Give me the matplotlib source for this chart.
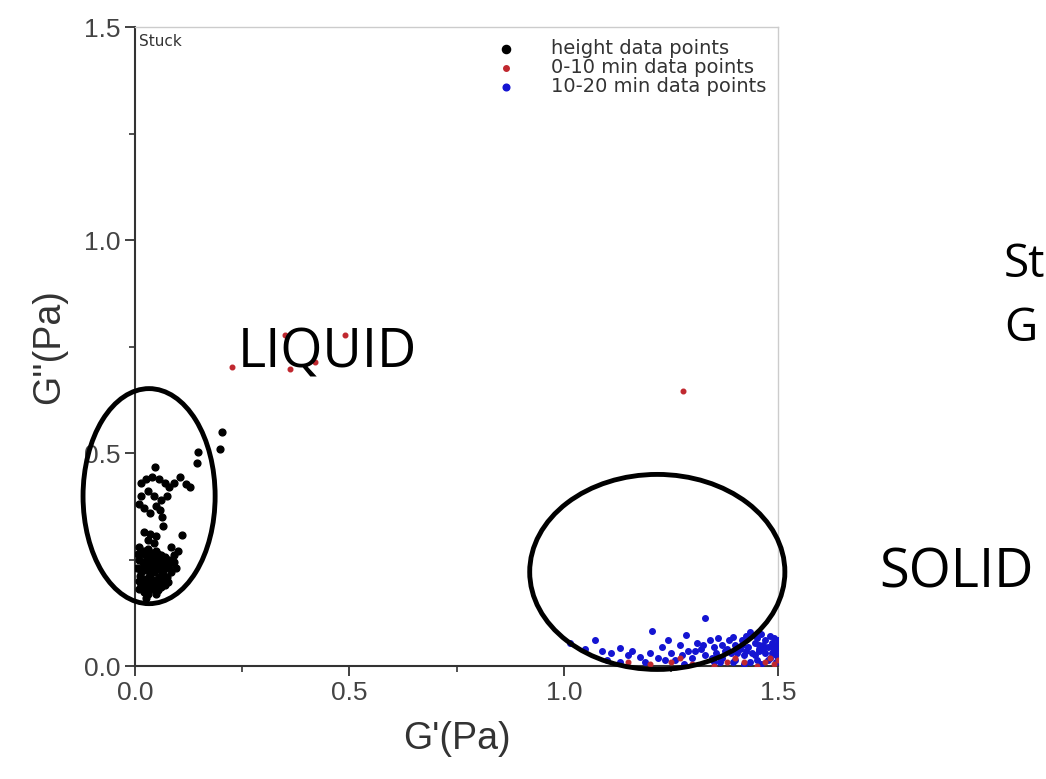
import matplotlib.pyplot as plt
from matplotlib.patches import Ellipse

# height data points (G', G'')
height_x = [0.203, 0.198, 0.147, 0.145, 0.047, 0.105, 0.128, 0.118, 0.110,
            0.015, 0.025, 0.040, 0.055, 0.070, 0.080, 0.075, 0.060, 0.045, 0.030,
            0.015, 0.010, 0.020, 0.035, 0.050, 0.058, 0.063, 0.065, 0.090,
            0.020, 0.035, 0.050, 0.030, 0.045,
            0.010, 0.020, 0.030, 0.040, 0.050, 0.060, 0.070, 0.080, 0.090, 0.095, 0.085,
            0.010, 0.020, 0.030, 0.040, 0.050, 0.060, 0.070, 0.075,
            0.005, 0.015, 0.025, 0.035, 0.045, 0.055, 0.065,
            0.010, 0.020, 0.030, 0.040, 0.050, 0.060, 0.070,
            0.010, 0.020, 0.030, 0.040, 0.050, 0.025, 0.015,
            0.035, 0.045, 0.055, 0.025, 0.065, 0.080, 0.090, 0.100, 0.085,
            0.012, 0.022, 0.032, 0.042, 0.052, 0.062, 0.072, 0.017, 0.027, 0.037,
            0.047, 0.057, 0.067, 0.008, 0.018, 0.028, 0.038, 0.048, 0.058, 0.068,
            0.013, 0.023, 0.033, 0.043, 0.053, 0.063, 0.033, 0.043, 0.053, 0.078]
height_y = [0.549, 0.509, 0.502, 0.477, 0.467, 0.444, 0.420, 0.428, 0.308,
            0.430, 0.440, 0.445, 0.440, 0.430, 0.420, 0.400, 0.390, 0.400, 0.410,
            0.400, 0.380, 0.370, 0.360, 0.375, 0.366, 0.350, 0.330, 0.430,
            0.315, 0.310, 0.305, 0.295, 0.290,
            0.280, 0.270, 0.275, 0.265, 0.270, 0.260, 0.255, 0.250, 0.245, 0.230, 0.220,
            0.250, 0.245, 0.240, 0.245, 0.235, 0.240, 0.230, 0.210,
            0.230, 0.220, 0.225, 0.215, 0.220, 0.210, 0.200,
            0.200, 0.205, 0.195, 0.200, 0.190, 0.185, 0.190,
            0.180, 0.175, 0.170, 0.180, 0.170, 0.160, 0.190,
            0.250, 0.255, 0.250, 0.260, 0.225, 0.235, 0.260, 0.270, 0.280,
            0.212, 0.232, 0.208, 0.228, 0.248, 0.218, 0.242, 0.262, 0.188, 0.222,
            0.202, 0.228, 0.212, 0.262, 0.238, 0.252, 0.238, 0.258, 0.198, 0.202,
            0.192, 0.182, 0.185, 0.192, 0.178, 0.248, 0.268, 0.235, 0.262, 0.198]

# 0-10 min data points
early_x = [0.226, 0.350, 0.362, 0.420, 0.490, 1.278,
           1.470, 1.480, 1.490, 1.500, 1.450, 1.420, 1.380, 1.300,
           1.250, 1.200, 1.150, 1.270, 1.350, 1.400]
early_y = [0.702, 0.777, 0.697, 0.714, 0.777, 0.646,
           0.010, 0.020, 0.005, 0.015, 0.000, 0.010, 0.010, 0.005,
           0.010, 0.005, 0.010, 0.020, 0.000, 0.020]

# 10-20 min data points
late_x = [1.015, 1.073, 1.050, 1.090, 1.110, 1.131, 1.150, 1.178, 1.160, 1.190,
          1.200, 1.206, 1.220, 1.230, 1.243, 1.250, 1.260, 1.270, 1.285, 1.290,
          1.300, 1.310, 1.320, 1.330, 1.330, 1.340, 1.350, 1.355, 1.360, 1.370,
          1.370, 1.380, 1.385, 1.390, 1.395, 1.400, 1.400, 1.410, 1.415, 1.420,
          1.425, 1.430, 1.434, 1.440, 1.445, 1.450, 1.450, 1.455, 1.460, 1.465,
          1.470, 1.470, 1.475, 1.480, 1.480, 1.485, 1.490, 1.490, 1.495, 1.500,
          1.500, 1.500, 1.495, 1.460, 1.420, 1.350, 1.280, 1.130, 1.100,
          1.405, 1.425, 1.445, 1.465, 1.485, 1.435, 1.455, 1.475, 1.495, 1.395,
          1.375, 1.415, 1.455, 1.485, 1.365, 1.345, 1.325, 1.305, 1.275, 1.235]
late_y = [0.054, 0.061, 0.040, 0.035, 0.030, 0.042, 0.025, 0.021, 0.035, 0.010,
          0.030, 0.082, 0.020, 0.045, 0.061, 0.030, 0.015, 0.050, 0.073, 0.035,
          0.020, 0.055, 0.040, 0.113, 0.025, 0.060, 0.045, 0.030, 0.065, 0.050,
          0.020, 0.040, 0.060, 0.030, 0.068, 0.050, 0.015, 0.040, 0.060, 0.025,
          0.070, 0.045, 0.080, 0.030, 0.055, 0.065, 0.015, 0.040, 0.075, 0.050,
          0.030, 0.060, 0.045, 0.070, 0.020, 0.055, 0.035, 0.065, 0.050, 0.040,
          0.060, 0.020, 0.010, 0.005, 0.005, 0.010, 0.005, 0.010, 0.015,
          0.030, 0.035, 0.025, 0.040, 0.030, 0.010, 0.050, 0.015, 0.025, 0.010,
          0.035, 0.050, 0.035, 0.045, 0.010, 0.020, 0.050, 0.035, 0.025, 0.015]

narrow = ['Liberation Sans Narrow', 'Liberation Sans']

fig = plt.figure(figsize=(10.46, 7.79), dpi=100)
ax = fig.add_axes([0.129, 0.145, 0.615, 0.82])

ax.scatter(height_x, height_y, s=24, color='black', label='height data points', zorder=3)
ax.scatter(early_x, early_y, s=11, color='#c0282f', label='0-10 min data points', zorder=4)
ax.scatter(late_x, late_y, s=16, color='#1414d2', label='10-20 min data points', zorder=3)

ax.set_xlim(0, 1.5)
ax.set_ylim(0, 1.5)
ax.set_xticks([0.0, 0.5, 1.0, 1.5])
ax.set_yticks([0.0, 0.5, 1.0, 1.5])
ax.set_xticks([0.25, 0.75, 1.25], minor=True)
ax.set_yticks([0.25, 0.75, 1.25], minor=True)
ax.xaxis.set_major_formatter(plt.FormatStrFormatter('%.1f'))
ax.yaxis.set_major_formatter(plt.FormatStrFormatter('%.1f'))
ax.tick_params(which='major', direction='out', length=7, width=1.3,
               labelsize=19, colors='#333333', labelcolor='#444444')
ax.tick_params(which='minor', direction='out', length=4, width=1.2, colors='#333333')
for lbl in ax.get_xticklabels() + ax.get_yticklabels():
    lbl.set_family(narrow)

for side in ['top', 'right']:
    ax.spines[side].set_color('#cccccc')
    ax.spines[side].set_linewidth(1.0)
for side in ['left', 'bottom']:
    ax.spines[side].set_color('#333333')
    ax.spines[side].set_linewidth(1.5)

ax.set_xlabel("G'(Pa)", fontsize=27, color='#333333', labelpad=12, family=narrow)
ax.set_ylabel("G''(Pa)", fontsize=27, color='#333333', labelpad=12, family=narrow)

ax.text(0.006, 0.99, 'Stuck', transform=ax.transAxes, fontsize=11,
        color='#333333', va='top', ha='left')

leg = ax.legend(loc='upper right', frameon=False, fontsize=14, handletextpad=1.3,
                labelspacing=0.0, borderaxespad=0.2, markerscale=1.2)
for t in leg.get_texts():
    t.set_color('#333333')

# circled regions
ax.add_patch(Ellipse((0.033, 0.399), 0.308, 0.505, fill=False, lw=3.5,
                     edgecolor='black', clip_on=False, zorder=5))
ax.add_patch(Ellipse((1.218, 0.221), 0.595, 0.458, fill=False, lw=3.5,
                     edgecolor='black', clip_on=False, zorder=5))

ax.text(0.24, 0.735, 'LIQUID', fontsize=39, family='Open Sans',
        va='center', ha='left', zorder=6)
fig.text(0.841, 0.264, 'SOLID', fontsize=39, family='Open Sans',
         va='center', ha='left')
fig.text(0.960, 0.660, 'St', fontsize=33, family='Open Sans', va='center', ha='left')
fig.text(0.960, 0.578, 'G', fontsize=33, family='Open Sans', va='center', ha='left')

fig.savefig('out.png', dpi=100)
